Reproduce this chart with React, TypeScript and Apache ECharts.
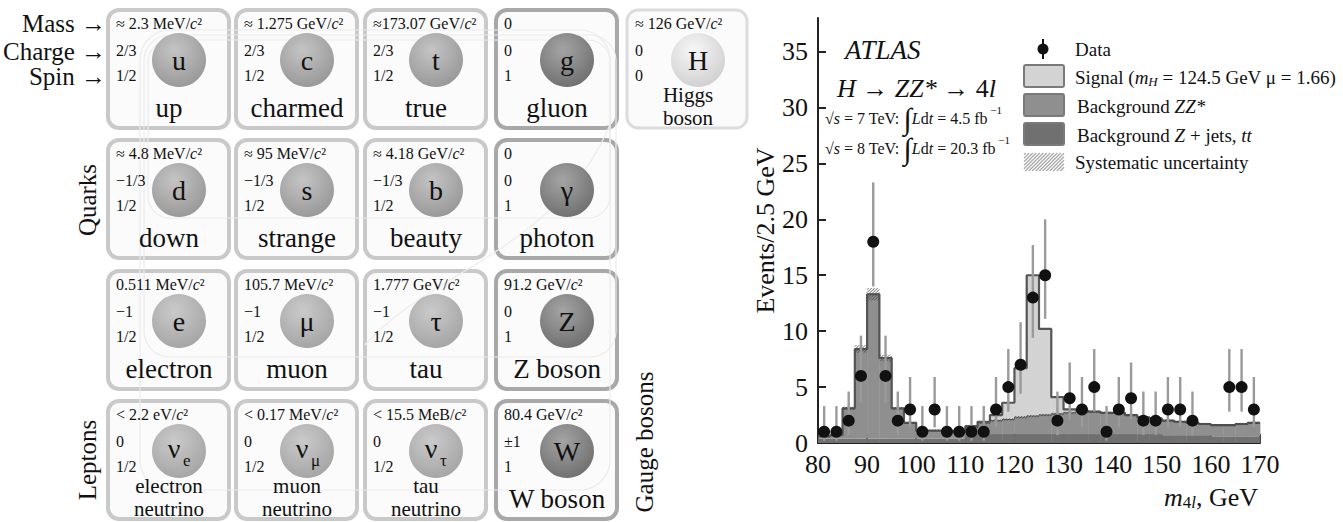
import React, { useEffect, useRef } from 'react';
import * as echarts from 'echarts';

const SERIF = '"Liberation Serif", "Times New Roman", "DejaVu Serif", serif';

// ---------------- Particle table data ----------------
const particleSymbols = ['u', 'c', 't', 'g', 'H', 'd', 's', 'b', 'γ', 'e', 'μ', 'τ', 'Z', 'ν', 'ν', 'ν', 'W'];
const particleSubscripts = ['', '', '', '', '', '', '', '', '', '', '', '', '', 'e', 'μ', 'τ', ''];
const particleNames = ['up', 'charmed', 'true', 'gluon', 'Higgs\nboson', 'down', 'strange', 'beauty', 'photon', 'electron', 'muon', 'tau', 'Z boson', 'electron\nneutrino', 'muon\nneutrino', 'tau\nneutrino', 'W boson'];
const particleMasses = ['≈ 2.3 MeV/c²', '≈ 1.275 GeV/c²', '≈173.07 GeV/c²', '0', '≈ 126 GeV/c²', '≈ 4.8 MeV/c²', '≈ 95 MeV/c²', '≈ 4.18 GeV/c²', '0', '0.511 MeV/c²', '105.7 MeV/c²', '1.777 GeV/c²', '91.2 GeV/c²', '< 2.2 eV/c²', '< 0.17 MeV/c²', '< 15.5 MeB/c²', '80.4 GeV/c²'];
const particleCharges = ['2/3', '2/3', '2/3', '0', '0', '−1/3', '−1/3', '−1/3', '0', '−1', '−1', '−1', '0', '0', '0', '0', '±1'];
const particleSpins = ['1/2', '1/2', '1/2', '1', '0', '1/2', '1/2', '1/2', '1', '1/2', '1/2', '1/2', '1', '1/2', '1/2', '1/2', '1'];
const particleKinds = ['quark', 'quark', 'quark', 'gauge', 'higgs', 'quark', 'quark', 'quark', 'gauge', 'lepton', 'lepton', 'lepton', 'gauge', 'lepton', 'lepton', 'lepton', 'gauge'];
const particleColumns = [0, 1, 2, 3, 4, 0, 1, 2, 3, 0, 1, 2, 3, 0, 1, 2, 3];
const particleRows = [0, 0, 0, 0, 0, 1, 1, 1, 1, 2, 2, 2, 2, 3, 3, 3, 3];
const rowLabels = ['Mass →', 'Charge →', 'Spin →'];
const groupLabels = ['Quarks', 'Leptons', 'Gauge bosons'];

// ---------------- Histogram data (m4l, 2.5 GeV bins) ----------------
const binEdges = [80, 82.5, 85, 87.5, 90, 92.5, 95, 97.5, 100, 102.5, 105, 107.5, 110, 112.5, 115, 117.5, 120, 122.5, 125, 127.5, 130, 132.5, 135, 137.5, 140, 142.5, 145, 147.5, 150, 152.5, 155, 157.5, 160, 162.5, 165, 167.5, 170];
const bkgZjets = [0.4, 0.4, 0.4, 0.4, 0.4, 0.4, 0.4, 0.4, 0.4, 0.4, 0.4, 0.4, 0.8, 0.8, 0.8, 0.8, 0.8, 0.8, 0.8, 0.8, 0.8, 0.8, 0.8, 0.8, 0.8, 0.8, 0.8, 0.8, 0.7, 0.7, 0.7, 0.7, 0.6, 0.6, 0.6, 0.6];
const bkgZZ = [0.2, 0.3, 2.7, 8.0, 12.9, 7.2, 2.7, 1.4, 0.7, 0.7, 0.7, 0.6, 0.6, 1.0, 1.2, 1.3, 1.5, 1.6, 1.7, 1.8, 1.9, 2.0, 2.0, 1.9, 1.9, 1.7, 1.5, 1.4, 1.3, 1.2, 1.1, 1.0, 1.0, 1.0, 1.1, 1.2];
const signalH = [0, 0, 0, 0, 0, 0, 0, 0, 0, 0, 0, 0, 0.1, 0.1, 0.5, 1.5, 4.4, 12.6, 7.7, 1.5, 0.3, 0.1, 0, 0, 0, 0, 0, 0, 0, 0, 0, 0, 0, 0, 0, 0];
const systUnc = [0.05, 0.05, 0.15, 0.35, 0.55, 0.3, 0.12, 0.1, 0.08, 0.08, 0.08, 0.08, 0.1, 0.1, 0.1, 0.1, 0.1, 0.1, 0.1, 0.1, 0.1, 0.1, 0.1, 0.1, 0.1, 0.1, 0.1, 0.1, 0.1, 0.1, 0.1, 0.1, 0.1, 0.1, 0.1, 0.1];

const dataMass = [81.25, 83.75, 86.25, 88.75, 91.25, 93.75, 96.25, 98.75, 101.25, 103.75, 106.25, 108.75, 111.25, 113.75, 116.25, 118.75, 121.25, 123.75, 126.25, 128.75, 131.25, 133.75, 136.25, 138.75, 141.25, 143.75, 146.25, 148.75, 151.25, 153.75, 156.25, 158.75, 161.25, 163.75, 166.25, 168.75];
const dataEvents = [1, 1, 2, 6, 18, 6, 2, 3, 1, 3, 1, 1, 1, 1, 3, 5, 7, 13, 15, 2, 4, 3, 5, 1, 3, 4, 2, 2, 3, 3, 2, null, null, 5, 5, 3];
const dataErrLow = [0.2, 0.2, 0.7, 3.6, 14.0, 3.6, 0.7, 1.4, 0.2, 1.4, 0.2, 0.2, 0.2, 0.2, 1.4, 2.8, 4.4, 9.4, 11.1, 0.7, 2.1, 1.4, 2.8, 0.2, 1.4, 2.1, 0.7, 0.7, 1.4, 1.4, 0.7, null, null, 2.8, 2.8, 1.4];
const dataErrHigh = [3.3, 3.3, 4.6, 9.6, 23.3, 9.6, 4.6, 5.9, 3.3, 5.9, 3.3, 3.3, 3.3, 3.3, 5.9, 8.4, 10.8, 17.7, 20.0, 4.6, 7.2, 5.9, 8.4, 3.3, 5.9, 7.2, 4.6, 4.6, 5.9, 5.9, 4.6, null, null, 8.4, 8.4, 5.9];

const xTicks = [80, 90, 100, 110, 120, 130, 140, 150, 160, 170];
const yTicks = [0, 5, 10, 15, 20, 25, 30, 35];

// ---------------- Layout constants ----------------
const CARD_X = [108, 236, 365, 496, 627];
const CARD_Y = [10, 140, 271, 401];
const CARD_W = 121;
const CARD_H = 118;

const COL_SIGNAL = '#d3d3d3';
const COL_ZZ = '#8f8f8f';
const COL_ZJ = '#707070';

function fnt(size: number, italic = false) {
  return `${italic ? 'italic' : 'normal'} normal ${size}px ${SERIF}`;
}

function tok(size: number, italic = false, extra: any = {}) {
  return { font: fnt(size, italic), fontFamily: SERIF, fontSize: size, fontStyle: italic ? 'italic' : 'normal', fill: '#111', ...extra };
}

function txt(x: number, y: number, text: string, o: any = {}) {
  const size = o.size || 16;
  const style: any = {
    text,
    x: 0,
    y: 0,
    fill: o.fill || '#111',
    font: fnt(size, !!o.italic),
    fontFamily: SERIF,
    fontSize: size,
    fontStyle: o.italic ? 'italic' : 'normal',
    align: o.align || 'left',
    verticalAlign: o.valign || 'middle',
    legacy: false,
  };
  if (o.lineHeight) style.lineHeight = o.lineHeight;
  if (o.rich) style.rich = o.rich;
  return { type: 'text', x, y, rotation: o.rotation || 0, z: o.z ?? 10, style };
}

function hatchLines(x: number, y: number, w: number, h: number, step: number, color: string, lw: number) {
  const children: any[] = [];
  for (let k = step / 2; k < w + h; k += step) {
    const u1 = Math.max(0, k - h);
    const u2 = Math.min(w, k);
    if (u2 <= u1) continue;
    children.push({
      type: 'line',
      shape: { x1: x + u1, y1: y + k - u1, x2: x + u2, y2: y + k - u2 },
      style: { stroke: color, lineWidth: lw },
    });
  }
  return children;
}

function buildTable() {
  const els: any[] = [];
  // faint decorative grouping outlines
  const deco = [
    { x: 148, y: 40, w: 462, h: 178, r: 22 },
    { x: 144, y: 35, w: 472, h: 322, r: 26 },
    { x: 140, y: 30, w: 470, h: 460, r: 30 },
  ];
  deco.forEach((d) => {
    els.push({ type: 'rect', z: 3, shape: { x: d.x, y: d.y, width: d.w, height: d.h, r: d.r }, style: { fill: 'none', stroke: '#ececec', lineWidth: 1.2 } });
  });
  els.push({ type: 'bezierCurve', z: 3, shape: { x1: 365, y1: 345, cpx1: 430, cpy1: 270, cpx2: 560, cpy2: 250, x2: 612, y2: 120 }, style: { fill: 'none', stroke: '#ececec', lineWidth: 1.2 } });

  particleSymbols.forEach((sym, i) => {
    const x = CARD_X[particleColumns[i]];
    const y = CARD_Y[particleRows[i]];
    const kind = particleKinds[i];
    const stroke = kind === 'gauge' ? '#a8a8a8' : kind === 'higgs' ? '#dcdcdc' : '#c9c9c9';
    els.push({ type: 'rect', z: 2, shape: { x, y, width: kind === 'higgs' ? 120 : CARD_W, height: CARD_H, r: 11 }, style: { fill: '#fbfbfb', stroke, lineWidth: kind === 'higgs' ? 3 : 4 } });
    let c0 = '#c4c4c4';
    let c1 = '#959595';
    if (kind === 'gauge') { c0 = '#a4a4a4'; c1 = '#6c6c6c'; }
    if (kind === 'lepton') { c0 = '#cacaca'; c1 = '#a2a2a2'; }
    if (kind === 'higgs') { c0 = '#f7f7f7'; c1 = '#cdcdcd'; }
    const cx = x + 71;
    const cy = y + 50;
    els.push({
      type: 'circle', z: 4,
      shape: { cx, cy, r: 27 },
      style: { fill: new echarts.graphic.RadialGradient(0.42, 0.32, 0.75, [{ offset: 0, color: c0 }, { offset: 1, color: c1 }]) },
    });
    if (particleSubscripts[i]) {
      els.push(txt(cx - 5, cy - 3, sym, { size: 28, align: 'center' }));
      els.push(txt(cx + 4, cy + 9, particleSubscripts[i], { size: 17, align: 'left' }));
    } else {
      els.push(txt(cx, cy, sym, { size: 28, align: 'center' }));
    }
    const mass = particleMasses[i].replace('c²', '{i|c}{n|²}');
    els.push(txt(x + 8, y + 13, mass, { size: 16, rich: { n: tok(16), i: tok(16, true) } }));
    els.push(txt(x + 8, y + 40, particleCharges[i], { size: 16 }));
    els.push(txt(x + 8, y + 65, particleSpins[i], { size: 16 }));
    const lines = particleNames[i].split('\n');
    if (lines.length > 1) {
      els.push(txt(x + 61, y + 85, lines[0], { size: 21, align: 'center' }));
      els.push(txt(x + 61, y + 108, lines[1], { size: 21, align: 'center' }));
    } else {
      els.push(txt(x + 61, y + 98, lines[0], { size: 27, align: 'center' }));
    }
  });

  const labelY = [23, 51, 76];
  rowLabels.forEach((l, k) => els.push(txt(106, labelY[k], l, { size: 25, align: 'right' })));
  els.push(txt(87, 200, groupLabels[0], { size: 25, align: 'center', rotation: Math.PI / 2 }));
  els.push(txt(87, 460, groupLabels[1], { size: 25, align: 'center', rotation: Math.PI / 2 }));
  els.push(txt(644, 442, groupLabels[2], { size: 25, align: 'center', rotation: Math.PI / 2 }));
  return els;
}

function buildAnnotations() {
  const els: any[] = [];
  const rich = {
    n: tok(19, false, { lineHeight: 22 }),
    i: tok(19, true, { lineHeight: 22 }),
    sub: tok(13, true, { lineHeight: 12, verticalAlign: 'bottom' }),
  };
  els.push(txt(845, 50, 'ATLAS', { size: 27, italic: true }));
  const big = { n: tok(26), i: tok(26, true) };
  els.push(txt(837, 88, '{i|H}{n| → }{i|ZZ*}{n| → 4}{i|l}', { size: 26, rich: big }));
  const lum = {
    n: tok(16, false, { lineHeight: 28 }),
    i: tok(16, true, { lineHeight: 28 }),
    int: tok(30, false, { lineHeight: 28 }),
    sup: tok(11, false, { lineHeight: 12, verticalAlign: 'top' }),
  };
  els.push(txt(825, 118, '{n|√}{i|s}{n| = 7 TeV: }{int|∫}{i|L}{n|d}{i|t}{n| = 4.5 fb}{sup| −1}', { size: 16, rich: lum }));
  els.push(txt(825, 148, '{n|√}{i|s}{n| = 8 TeV: }{int|∫}{i|L}{n|d}{i|t}{n| = 20.3 fb}{sup| −1}', { size: 16, rich: lum }));

  // legend
  els.push({ type: 'line', z: 10, shape: { x1: 1043, y1: 39, x2: 1043, y2: 59 }, style: { stroke: '#111', lineWidth: 2 } });
  els.push({ type: 'circle', z: 10, shape: { cx: 1043, cy: 49, r: 5.5 }, style: { fill: '#111' } });
  els.push(txt(1075, 49, 'Data', { size: 19 }));
  const boxes = [
    { y: 65, fill: COL_SIGNAL },
    { y: 94, fill: COL_ZZ },
    { y: 123, fill: COL_ZJ },
  ];
  boxes.forEach((b) => {
    els.push({ type: 'rect', z: 10, shape: { x: 1024, y: b.y, width: 40, height: 22, r: 2 }, style: { fill: b.fill, stroke: '#7a7a7a', lineWidth: 2 } });
  });
  els.push(txt(1075, 77, '{n|Signal (}{i|m}{sub|H}{n| = 124.5 GeV μ = 1.66)}', { size: 19, rich }));
  els.push(txt(1077, 106, '{n|Background }{i|ZZ*}', { size: 19, rich }));
  els.push(txt(1077, 135, '{n|Background }{i|Z}{n| + jets, }{i|tt}', { size: 19, rich }));
  els.push({ type: 'group', z: 10, children: hatchLines(1024, 153, 40, 18, 3.5, '#a8a8a8', 1.2) });
  els.push(txt(1075, 162, 'Systematic uncertainty', { size: 19 }));

  // x-axis title
  const xr = {
    i: tok(26, true, { lineHeight: 28 }),
    n: tok(26, false, { lineHeight: 28 }),
    s: tok(17, false, { lineHeight: 14, verticalAlign: 'bottom' }),
    si: tok(17, true, { lineHeight: 14, verticalAlign: 'bottom' }),
  };
  els.push(txt(1258, 497, '{i|m}{s|4}{si|l}{n|, GeV}', { size: 26, align: 'right', rich: xr }));
  return els;
}

function buildOption() {
  const n = binEdges.length - 1;
  const bgTop = bkgZjets.map((v, i) => v + bkgZZ[i]);
  const total = bgTop.map((v, i) => v + signalH[i]);
  const rows = (lo: number[], hi: number[]) => lo.map((l, i) => [binEdges[i], binEdges[i + 1], l, hi[i]]);
  const rectSeries = (name: string, data: number[][], color: string, z: number) => ({
    type: 'custom',
    name,
    z,
    silent: true,
    dimensions: ['x0', 'x1', 'lo', 'hi'],
    encode: { x: [0, 1], y: [2, 3] },
    data,
    renderItem: (params: any, api: any) => {
      const p0 = api.coord([api.value(0), api.value(3)]);
      const p1 = api.coord([api.value(1), api.value(2)]);
      return {
        type: 'rect',
        shape: { x: p0[0], y: p0[1], width: p1[0] - p0[0] + 0.4, height: p1[1] - p0[1] },
        style: { fill: color },
      };
    },
  });
  const zeros = bkgZjets.map(() => 0);
  const stepData = (vals: number[]) => binEdges.map((e, i) => [e, vals[Math.min(i, n - 1)]]);

  const points = dataMass.map((m, i) => [m, dataEvents[i]]).filter((p) => p[1] !== null);
  const errs = dataMass.map((m, i) => [m, dataErrLow[i], dataErrHigh[i]]).filter((p) => p[1] !== null);

  return {
    animation: false,
    backgroundColor: '#ffffff',
    textStyle: { fontFamily: SERIF },
    grid: { left: 818, right: 83, top: 18, bottom: 79 },
    xAxis: {
      type: 'value',
      min: 80,
      max: 170,
      interval: 10,
      axisLine: { lineStyle: { color: '#222', width: 2 } },
      axisTick: { inside: true, length: 9, customValues: xTicks, lineStyle: { color: '#222', width: 2 } },
      axisLabel: { customValues: xTicks, fontFamily: SERIF, fontSize: 26, color: '#111', margin: 8 },
      splitLine: { show: false },
    },
    yAxis: {
      type: 'value',
      min: 0,
      max: 38,
      interval: 5,
      name: 'Events/2.5 GeV',
      nameLocation: 'middle',
      nameRotate: 90,
      nameGap: 40,
      nameTextStyle: { fontFamily: SERIF, fontSize: 26, color: '#111' },
      axisLine: { show: true, lineStyle: { color: '#222', width: 2 } },
      axisTick: { show: true, inside: true, length: 8, customValues: yTicks, lineStyle: { color: '#222', width: 2 } },
      axisLabel: {
        customValues: yTicks,
        fontFamily: SERIF,
        fontSize: 26,
        color: '#111',
        margin: 10,
        formatter: (v: number) => (v % 5 === 0 ? String(v) : ''),
      },
      splitLine: { show: false },
    },
    series: [
      rectSeries('Background Z+jets, tt', rows(zeros, bkgZjets), COL_ZJ, 1),
      rectSeries('Background ZZ*', rows(bkgZjets, bgTop), COL_ZZ, 1),
      rectSeries('Signal', rows(bgTop, total), COL_SIGNAL, 1),
      {
        type: 'custom',
        name: 'Systematic uncertainty',
        z: 4,
        silent: true,
        dimensions: ['x0', 'x1', 'lo', 'hi'],
        encode: { x: [0, 1], y: [2, 3] },
        data: rows(bgTop.map((v, i) => v - systUnc[i]), bgTop.map((v, i) => v + systUnc[i])),
        renderItem: (params: any, api: any) => {
          const p0 = api.coord([api.value(0), api.value(3)]);
          const p1 = api.coord([api.value(1), api.value(2)]);
          return { type: 'group', children: hatchLines(p0[0], p0[1], p1[0] - p0[0], p1[1] - p0[1], 3, '#3c3c3c', 0.8) };
        },
      },
      {
        type: 'line',
        name: 'Background total',
        step: 'end',
        symbol: 'none',
        silent: true,
        z: 3,
        data: stepData(bgTop),
        lineStyle: { color: '#5a5a5a', width: 1 },
      },
      {
        type: 'line',
        name: 'Total',
        step: 'end',
        symbol: 'none',
        silent: true,
        z: 3,
        data: stepData(total),
        lineStyle: { color: '#555', width: 2.2 },
      },
      {
        type: 'custom',
        name: 'Data errors',
        z: 5,
        silent: true,
        dimensions: ['x', 'lo', 'hi'],
        encode: { x: 0, y: [1, 2] },
        data: errs,
        renderItem: (params: any, api: any) => {
          const a = api.coord([api.value(0), api.value(1)]);
          const b = api.coord([api.value(0), api.value(2)]);
          return { type: 'line', shape: { x1: a[0], y1: a[1], x2: b[0], y2: b[1] }, style: { stroke: '#9a9a9a', lineWidth: 2.4 } };
        },
      },
      {
        type: 'scatter',
        name: 'Data',
        z: 6,
        symbol: 'circle',
        symbolSize: 12,
        data: points,
        itemStyle: { color: '#111', opacity: 1 },
      },
    ],
    graphic: [...buildTable(), ...buildAnnotations()],
  };
}

export default function App() {
  const ref = useRef<HTMLDivElement>(null);
  useEffect(() => {
    if (!ref.current) return;
    const chart = echarts.init(ref.current, null, { renderer: 'svg' });
    chart.setOption(buildOption() as any);
    return () => chart.dispose();
  }, []);
  return <div ref={ref} style={{ position: 'fixed', left: 0, top: 0, width: 1343, height: 522, background: '#fff' }} />;
}
